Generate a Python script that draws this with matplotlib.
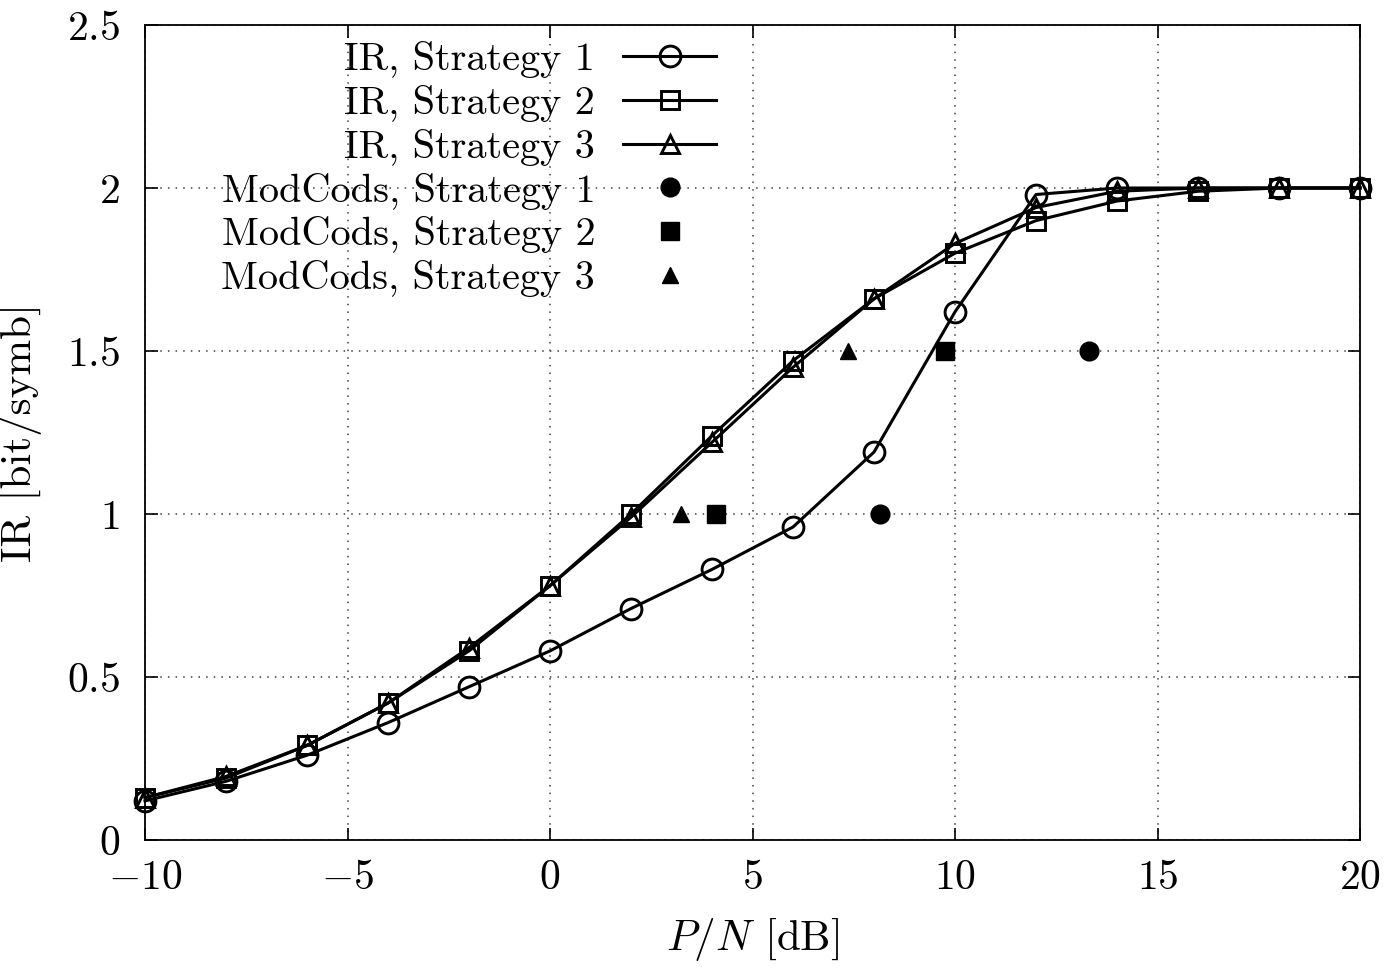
import matplotlib
matplotlib.use("Agg")
import matplotlib.pyplot as plt

# Data
pn = [-10, -8, -6, -4, -2, 0, 2, 4, 6, 8, 10, 12, 14, 16, 18, 20]
ir_s1 = [0.12, 0.18, 0.26, 0.36, 0.47, 0.58, 0.71, 0.83, 0.96, 1.19, 1.62, 1.98, 2.0, 2.0, 2.0, 2.0]
ir_s2 = [0.13, 0.19, 0.29, 0.42, 0.58, 0.78, 1.0, 1.24, 1.47, 1.66, 1.80, 1.90, 1.96, 1.99, 2.0, 2.0]
ir_s3 = [0.13, 0.195, 0.29, 0.42, 0.59, 0.78, 0.99, 1.22, 1.45, 1.66, 1.83, 1.94, 1.99, 2.0, 2.0, 2.0]

mc_s1_x = [8.15, 13.3]
mc_s1_y = [1.0, 1.5]
mc_s2_x = [4.1, 9.75]
mc_s2_y = [1.0, 1.5]
mc_s3_x = [3.23, 7.36]
mc_s3_y = [1.0, 1.5]

labels = ["IR, Strategy 1", "IR, Strategy 2", "IR, Strategy 3",
          "ModCods, Strategy 1", "ModCods, Strategy 2", "ModCods, Strategy 3"]
xticks = [-10, -5, 0, 5, 10, 15, 20]
yticks = [0, 0.5, 1, 1.5, 2, 2.5]

plt.rcParams['mathtext.fontset'] = 'cm'
plt.rcParams['font.family'] = ['cmr10']
plt.rcParams['axes.formatter.use_mathtext'] = True
plt.rcParams['axes.unicode_minus'] = True

FS_LEG = 29
FS_TICK = 30
FS_LAB = 31

fig = plt.figure(figsize=(13.99, 9.71), dpi=100)
ax = fig.add_axes([145/1399, 1 - 840/971, (1360-145)/1399, (840-25)/971])

lw = 2.2
common = dict(color='black', linewidth=lw, markeredgewidth=2.1, markersize=15,
              markerfacecolor='none', clip_on=False, zorder=3)
ax.plot(pn, ir_s1, marker='o', label=labels[0], **common)
ax.plot(pn, ir_s2, marker='s', label=labels[1], **dict(common, markersize=13.5))
ax.plot(pn, ir_s3, marker='^', label=labels[2], **dict(common, markersize=13.5))

ax.plot(mc_s1_x, mc_s1_y, linestyle='none', marker='o', color='black', markersize=13.5,
        label=labels[3], zorder=3)
ax.plot(mc_s2_x, mc_s2_y, linestyle='none', marker='s', color='black', markersize=13.5,
        label=labels[4], zorder=3)
ax.plot(mc_s3_x, mc_s3_y, linestyle='none', marker='^', color='black', markersize=11.5,
        label=labels[5], zorder=3)

ax.set_xlim(-10, 20)
ax.set_ylim(0, 2.5)
ax.set_xticks(xticks)
ax.set_yticks(yticks)
ax.set_xticklabels([("$-%d$" % -t) if t < 0 else ("$%d$" % t) for t in xticks], fontsize=FS_TICK)
ax.set_yticklabels(["$0$", "$0.5$", "$1$", "$1.5$", "$2$", "$2.5$"], fontsize=FS_TICK)

ax.tick_params(direction='in', length=9, width=1.2, top=True, right=True)
ax.tick_params(axis='x', pad=14)
ax.tick_params(axis='y', pad=18)
ax.grid(True, color='0.25', linestyle=(0, (1, 4)), linewidth=1.1)
ax.set_axisbelow(True)
for s in ax.spines.values():
    s.set_linewidth(1.3)

ax.set_xlabel(r"$P/N$ [dB]", fontsize=FS_LAB, labelpad=14)
ax.set_ylabel("IR [bit/symb]", fontsize=FS_LAB, labelpad=18)

leg = ax.legend(loc='upper right', bbox_to_anchor=(716/1399, 1 - 41/971),
                bbox_transform=fig.transFigure, frameon=False, markerfirst=False,
                fontsize=FS_LEG, handlelength=2.3, handletextpad=0.7, labelspacing=0.17,
                borderaxespad=0, borderpad=0)

fig.savefig("out.png", dpi=100)
